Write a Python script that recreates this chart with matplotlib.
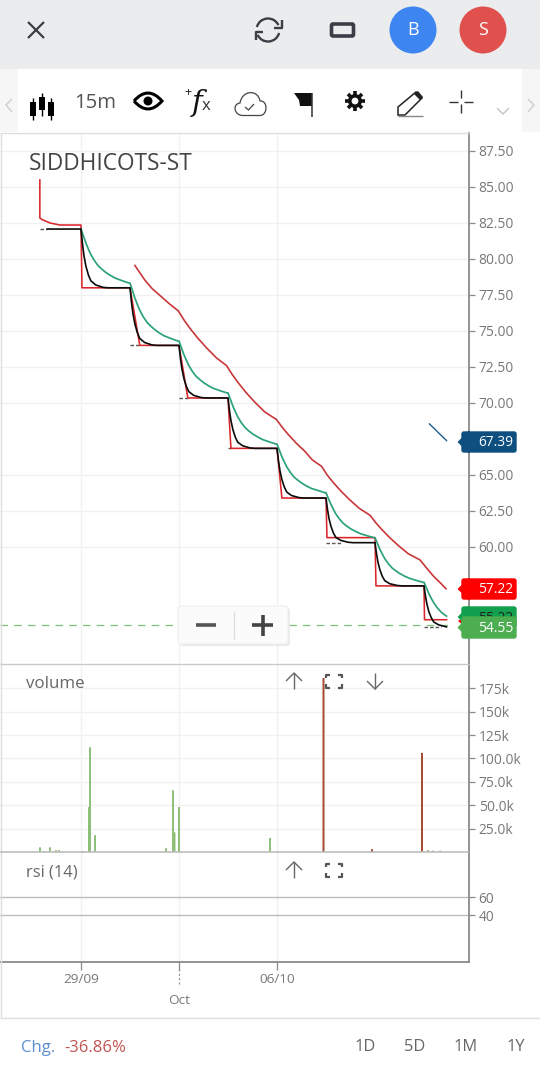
import matplotlib
matplotlib.use("Agg")
import matplotlib.pyplot as plt
from matplotlib.patches import Circle, Rectangle, Polygon, FancyBboxPatch, PathPatch, Arc
from matplotlib.path import Path

# x values are trading days counted from 29/09
price_ticks = [87.5, 85, 82.5, 80, 77.5, 75, 72.5, 70, 65, 62.5, 60]
price_labels = ["87.50", "85.00", "82.50", "80.00", "77.50", "75.00", "72.50", "70.00", "65.00", "62.50", "60.00"]
day_ticks = [0, 2, 4]
day_labels = ["29/09", "Oct", "06/10"]

black_x = [-0.69, 0, 0.03, 0.06, 0.1, 0.15, 0.2, 0.3, 0.45, 0.55,
           1, 1.03, 1.06, 1.1, 1.15, 1.2, 1.3, 1.45, 1.55,
           2, 2.03, 2.06, 2.1, 2.15, 2.2, 2.3, 2.45, 2.55,
           3, 3.03, 3.06, 3.1, 3.15, 3.2, 3.3, 3.45, 3.55,
           4, 4.03, 4.06, 4.1, 4.15, 4.2, 4.3, 4.45, 4.55,
           5, 5.03, 5.06, 5.1, 5.15, 5.2, 5.3, 5.45, 5.55,
           6, 6.03, 6.06, 6.1, 6.15, 6.2, 6.3, 6.45, 6.55,
           7, 7.03, 7.06, 7.1, 7.15, 7.2, 7.3, 7.46]
black_y = [82.08, 82.08, 81.06, 80.24, 79.5, 78.9, 78.49, 78.2, 78.03, 78.0,
           78.0, 77.0, 76.2, 75.48, 74.88, 74.48, 74.2, 74.03, 74.0,
           74.0, 73.09, 72.36, 71.7, 71.15, 70.79, 70.53, 70.38, 70.35,
           70.35, 69.47, 68.78, 68.15, 67.62, 67.27, 67.03, 66.88, 66.85,
           66.85, 65.99, 65.3, 64.68, 64.16, 63.81, 63.57, 63.43, 63.4,
           63.4, 62.62, 62.0, 61.45, 60.98, 60.67, 60.46, 60.33, 60.3,
           60.3, 59.55, 58.95, 58.41, 57.96, 57.66, 57.45, 57.33, 57.3,
           57.3, 56.59, 56.02, 55.5, 55.08, 54.79, 54.59, 54.45]

red_step_x = [-0.84, -0.84, -0.8, -0.63, -0.43, 0, 0.02, 1, 1.2, 2, 2.18, 3, 3.06, 4, 4.1, 5, 5.02, 6, 6.02, 7, 7.01, 7.46]
red_step_y = [85.49, 82.85, 82.75, 82.5, 82.36, 82.36, 78.0, 78.0, 74.0, 74.0, 70.35, 70.35, 66.85, 66.85, 63.4, 63.4, 60.65, 60.65, 57.3, 57.3, 54.95, 54.95]

green_x = [0, 0.05, 0.1, 0.15, 0.2, 0.27, 0.35, 0.42, 0.5, 0.6, 0.7, 0.85, 0.98,
           1, 1.05, 1.1, 1.15, 1.2, 1.27, 1.35, 1.42, 1.5, 1.6, 1.7, 1.85, 1.98,
           2, 2.05, 2.1, 2.15, 2.2, 2.27, 2.35, 2.42, 2.5, 2.6, 2.7, 2.85, 2.98,
           3, 3.05, 3.1, 3.15, 3.2, 3.27, 3.35, 3.42, 3.5, 3.6, 3.7, 3.85, 3.98,
           4, 4.05, 4.1, 4.15, 4.2, 4.27, 4.35, 4.42, 4.5, 4.6, 4.7, 4.85, 4.98,
           5, 5.05, 5.1, 5.15, 5.2, 5.27, 5.35, 5.42, 5.5, 5.6, 5.7, 5.85, 5.98,
           6, 6.05, 6.1, 6.15, 6.2, 6.27, 6.35, 6.42, 6.5, 6.6, 6.7, 6.85, 6.98,
           7, 7.05, 7.1, 7.15, 7.2, 7.27, 7.35, 7.42, 7.46]
green_y = [82.08, 81.59, 81.11, 80.69, 80.32, 79.91, 79.53, 79.31, 79.08, 78.86, 78.67, 78.48, 78.33,
           78.33, 77.81, 77.28, 76.84, 76.44, 75.99, 75.59, 75.35, 75.11, 74.86, 74.66, 74.46, 74.3,
           74.3, 73.83, 73.36, 72.97, 72.61, 72.21, 71.85, 71.64, 71.42, 71.2, 71.02, 70.84, 70.7,
           70.7, 70.24, 69.78, 69.39, 69.03, 68.64, 68.29, 68.07, 67.86, 67.65, 67.47, 67.29, 67.15,
           67.15, 66.71, 66.27, 65.9, 65.56, 65.19, 64.85, 64.65, 64.45, 64.24, 64.07, 63.91, 63.77,
           63.77, 63.36, 62.96, 62.62, 62.3, 61.96, 61.65, 61.46, 61.27, 61.09, 60.93, 60.77, 60.65,
           60.65, 60.25, 59.84, 59.5, 59.19, 58.85, 58.54, 58.36, 58.17, 57.98, 57.83, 57.67, 57.55,
           57.55, 57.15, 56.76, 56.42, 56.12, 55.78, 55.48, 55.29, 55.2]

upper_x = [1.1, 1.3, 1.45, 1.6, 1.8, 1.985, 2.105, 2.225, 2.385, 2.565, 2.765, 2.97,
           3.09, 3.21, 3.37, 3.55, 3.75, 3.99, 4.11, 4.23, 4.39, 4.57, 4.72, 4.91,
           5.02, 5.14, 5.3, 5.48, 5.68, 5.9, 6.02, 6.14, 6.3, 6.48, 6.68, 6.92, 7.05, 7.2, 7.35, 7.45]
upper_y = [79.55, 78.55, 77.95, 77.5, 76.9, 76.4, 75.75, 75.18, 74.5, 73.82, 73.13, 72.6,
           71.96, 71.4, 70.72, 70.05, 69.38, 68.85, 68.3, 67.81, 67.22, 66.64, 66.05, 65.6,
           65.02, 64.51, 63.9, 63.29, 62.68, 62.2, 61.67, 61.21, 60.65, 60.09, 59.53, 59.1, 58.55, 57.95, 57.45, 57.1]

blue_x = [7.11, 7.46]
blue_y = [68.55, 67.39]

# short dashed stubs at the start of some levels
stub_x0 = [-0.84, 1.0, 2.0, 3.0, 5.0, 7.0]
stub_x1 = [-0.69, 1.2, 2.18, 3.06, 5.3, 7.35]
stub_y = [82.08, 74.0, 70.35, 66.85, 60.3, 54.45]

last_price = 54.55

volume_ticks = [25, 50, 75, 100, 125, 150, 175]
volume_labels = ["25.0k", "50.0k", "75.0k", "100.0k", "125k", "150k", "175k"]
up_x = [-0.837, -0.755, -0.633, -0.51, -0.449, 0.163, 0.184, 0.286, 1.735, 1.878, 1.908, 2.0, 3.857, 7.082, 7.184, 7.327]
up_vol = [5, 1, 5, 2, 2, 48, 112, 18, 4, 66, 21, 48, 15, 2, 1.5, 1.5]
down_x = [0.04, 4.949, 5.939, 6.959]
down_vol = [1, 186, 3, 106]

rsi_ticks = [40, 60]


def px_axes(x0, y0, x1, y1):
    # axes placed by pixel box, y counted from the top of the image
    return fig.add_axes([x0 / 540, 1 - y1 / 1079, (x1 - x0) / 540, (y1 - y0) / 1079])


def style_pane(ax):
    ax.set_xlim(-81 / 49, (469 - 81) / 49)
    ax.yaxis.tick_right()
    ax.set_xticks(day_ticks)
    ax.grid(True, color="#f1f1f1", lw=1.0)
    ax.set_axisbelow(True)
    for s in ["top", "left", "bottom"]:
        ax.spines[s].set_visible(False)
    ax.spines["right"].set_color("#8a8a8a")
    ax.spines["right"].set_linewidth(1.3)
    ax.tick_params(axis="y", length=4, width=0.9, color="#8a8a8a", labelcolor="#777777", labelsize=9.9, pad=3)
    ax.tick_params(axis="x", length=0, labelbottom=False)


plt.rcParams["font.family"] = ["Open Sans", "DejaVu Sans"]
fig = plt.figure(figsize=(5.40, 10.79), dpi=100)

# price pane
ax = px_axes(0, 133, 469, 663)
style_pane(ax)
ax.set_ylim(60 - 116 / 14.4, 60 + 414 / 14.4)
ax.set_yticks(price_ticks)
ax.set_yticklabels(price_labels)
ax.hlines(stub_y, stub_x0, stub_x1, colors="#555555", lw=1.0, linestyles=(0, (2.5, 1.5)), zorder=2)
ax.plot(red_step_x, red_step_y, color="#d9262a", lw=1.15, zorder=3)
ax.plot(upper_x, upper_y, color="#c8373a", lw=1.2, zorder=3)
ax.plot(green_x, green_y, color="#2ba27a", lw=1.25, zorder=4)
ax.plot(black_x, black_y, color="#0c0c0c", lw=1.2, zorder=5)
ax.plot(blue_x, blue_y, color="#1f5f8b", lw=1.0, zorder=5)
ax.plot([-81 / 49, 7.6], [last_price, last_price], color="#7cc07c", lw=0.9, ls=(0, (6, 5)), zorder=2)

# volume pane
ax_vol = px_axes(0, 664, 469, 852)
style_pane(ax_vol)
ax_vol.set_ylim(0, 200.9)
ax_vol.set_yticks(volume_ticks)
ax_vol.set_yticklabels(volume_labels)
ax_vol.bar(up_x, up_vol, width=0.04, color="#8dbf78", zorder=3, snap=False)
ax_vol.bar(down_x, down_vol, width=0.04, color="#a34a30", zorder=3, snap=False)

# rsi pane
ax_rsi = px_axes(0, 852, 469, 962)
style_pane(ax_rsi)
ax_rsi.set_ylim(-12.2, 110)
ax_rsi.set_yticks(rsi_ticks)
ax_rsi.set_yticklabels(["40", "60"])
ax_rsi.yaxis.grid(True, color="#bdbdbd", lw=1.0)
ax_rsi.spines["bottom"].set_visible(True)
ax_rsi.spines["bottom"].set_color("#8a8a8a")
ax_rsi.spines["bottom"].set_linewidth(1.3)
ax_rsi.tick_params(axis="x", length=6, width=0.9, color="#8a8a8a", labelcolor="#777777",
                   labelsize=9.7, labelbottom=True, pad=2)
ax_rsi.set_xticklabels(day_labels)
ax_rsi.xaxis.get_major_ticks()[1].set_pad(17)

# everything around the chart, in image pixels
ui = fig.add_axes([0, 0, 1, 1], zorder=10)
ui.set_xlim(0, 540)
ui.set_ylim(1079, 0)
ui.axis("off")
ui.patch.set_alpha(0)


def line(xs, ys, color="#333333", lw=1.2, **kw):
    ui.plot(xs, ys, color=color, lw=lw, solid_capstyle="butt", **kw)


def label(x, y, s, size, color="#666666", ha="left", **kw):
    ui.text(x, y + 1.5, s, fontsize=size, color=color, ha=ha, va="center", **kw)


def tag(y0, y1, color, z=1):
    ui.add_patch(FancyBboxPatch((462, y0 + 1), 54, y1 - y0 - 2, boxstyle="round,pad=0,rounding_size=2",
                                fc=color, ec=color, lw=1, zorder=z))
    ui.add_patch(Polygon([(458, (y0 + y1) / 2), (469, y0), (469, y1)], fc=color, ec=color, lw=0.5, zorder=z))


def expand_icon(cx, cy):
    for sx in (-1, 1):
        for sy in (-1, 1):
            line([cx + sx * 8, cx + sx * 8, cx + sx * 4], [cy + sy * 3, cy + sy * 6.5, cy + sy * 6.5], color="#555555", lw=1.6)


def arrow_icon(cx, cy, up=True):
    d = -1 if up else 1
    line([cx, cx], [cy - 8, cy + 8], color="#666666", lw=1.0)
    line([cx - 8, cx, cx + 8], [cy, cy + d * 8, cy], color="#666666", lw=1.0)


# top bar
ui.add_patch(Rectangle((0, 0), 540, 69, fc="#eaecee", ec="none"))
line([28, 44], [22, 38], color="#3b3f45", lw=1.6)
line([28, 44], [38, 22], color="#3b3f45", lw=1.6)
ui.add_patch(Arc((268, 30), 23, 23, theta1=195, theta2=335, ec="#3b3f45", lw=1.7))
ui.add_patch(Arc((268, 30), 23, 23, theta1=15, theta2=155, ec="#3b3f45", lw=1.7))
line([282, 282, 274], [20, 28, 28], color="#3b3f45", lw=1.7)
line([256, 256, 263], [40, 32, 32], color="#3b3f45", lw=1.7)
ui.add_patch(FancyBboxPatch((331.5, 24), 22, 12, boxstyle="round,pad=0,rounding_size=1.5", fc="none", ec="#3b3f45", lw=2.6))
ui.add_patch(Circle((413, 30), 23.5, fc="#3d85f0", ec="none"))
ui.add_patch(Circle((483, 30), 23.5, fc="#e0504c", ec="none"))
label(413, 28.5, "B", 13, color="white", ha="center")
label(483, 28.5, "S", 13, color="white", ha="center")

# toolbar
ui.add_patch(Rectangle((0, 69), 18, 63, fc="#f6f6f6", ec="none"))
ui.add_patch(Rectangle((522, 69), 18, 63, fc="#f6f6f6", ec="none"))
line([12, 6, 12], [99, 105, 112], color="#d0d0d0", lw=1.1)
line([528, 534, 528], [99, 105, 112], color="#d0d0d0", lw=1.1)
line([497, 503, 509], [108, 114, 108], color="#c8c8c8", lw=1.1)
for cx, y0, y1, b0, b1 in [(33, 98, 120, 102, 116), (42, 93, 116, 97, 110), (51, 98, 120, 102, 116)]:
    line([cx, cx], [y0, y1], color="black", lw=1.0)
    ui.add_patch(Rectangle((cx - 3, b0), 6, b1 - b0, fc="black", ec="none"))
label(74, 101, "15m", 14.6, color="#555555")
ui.add_patch(PathPatch(Path([(134, 101), (148, 85), (162, 101), (148, 117), (134, 101)],
                            [Path.MOVETO, Path.CURVE3, Path.CURVE3, Path.CURVE3, Path.CURVE3]),
                       fc="white", ec="black", lw=2.2))
ui.add_patch(Circle((148, 101), 4.5, fc="black", ec="none"))
ui.text(197, 103, "f", fontsize=21, family="DejaVu Serif", style="italic", ha="center", va="center", color="#111111")
label(206, 104, "x", 12, color="#333333", ha="center")
label(188, 91, "+", 9, color="#222222", ha="center")
ui.add_patch(PathPatch(Path([(243, 115.5), (234, 115.5), (232, 104), (240, 103), (242, 90), (258, 89), (260, 101),
                             (268, 100), (268, 115.5), (260, 115.5), (243, 115.5)],
                            [Path.MOVETO, Path.CURVE4, Path.CURVE4, Path.CURVE4, Path.CURVE4, Path.CURVE4, Path.CURVE4,
                             Path.CURVE4, Path.CURVE4, Path.CURVE4, Path.LINETO]),
                       fc="none", ec="#444444", lw=0.9))
line([245, 248.5, 254], [107, 110, 104], color="#444444", lw=0.9)
ui.add_patch(Polygon([(294, 93), (312, 93), (312, 106), (300, 106), (299, 100)], fc="#111111", ec="none"))
line([311.5, 311.5], [93, 117], color="#333333", lw=1.1)
for dx, dy in [(0, 10), (10, 0), (7, 7), (7, -7)]:
    line([355 - dx, 355 + dx], [101 - dy, 101 + dy], color="#111111", lw=2.6)
ui.add_patch(Circle((355, 101), 7, fc="#111111", ec="none", zorder=3))
ui.add_patch(Circle((355, 101), 3.4, fc="white", ec="none", zorder=4))
ui.add_patch(Polygon([(398, 107), (416, 92), (422, 98), (405, 115), (398, 115)], fc="white", ec="#222222", lw=1.1))
ui.add_patch(Polygon([(414, 94), (418, 91), (423, 97), (420, 100)], fc="#222222", ec="none", zorder=3))
line([398, 423], [116, 116], color="#888888", lw=1.0)
line([461, 461], [90, 98], color="#333333", lw=1.0)
line([461, 461], [104, 113], color="#333333", lw=1.0)
line([449, 458], [101.5, 101.5], color="#333333", lw=1.0)
line([464, 473], [101.5, 101.5], color="#333333", lw=1.0)
line([0, 469], [132.5, 132.5], color="#dddddd", lw=1.0)

# pane separators and borders
line([0.5, 0.5], [133, 1017], color="#dddddd", lw=1.0)
line([0, 469], [663.5, 663.5], color="#c9c9c9", lw=1.0)
line([0, 469], [851.5, 851.5], color="#bdbdbd", lw=1.2)
line([0, 540], [1017.5, 1017.5], color="#dedede", lw=1.0)
line([179, 179], [969, 986], color="#8a8a8a", lw=0.9, ls=(0, (1.5, 2)))

label(29, 162, "SIDDHICOTS-ST", 16.3, color="#444444")
label(26, 682.5, "volume", 12.2, color="#666666")
label(26, 871, "rsi (14)", 11.8, color="#666666")
arrow_icon(294, 681, up=True)
expand_icon(334, 681)
arrow_icon(375, 681, up=False)
arrow_icon(294, 870, up=True)
expand_icon(334, 870)

# zoom buttons
ui.add_patch(FancyBboxPatch((180, 608), 110, 38, boxstyle="round,pad=0,rounding_size=3", fc="#e2e2e2", ec="none", alpha=0.7))
ui.add_patch(FancyBboxPatch((178, 606), 110, 38, boxstyle="round,pad=0,rounding_size=3", fc="#fbfbfb", ec="#eeeeee", lw=0.8))
line([234, 234], [611, 639], color="#dddddd", lw=1.0)
line([196, 216], [625, 625], color="#555555", lw=2.6)
line([252, 273], [625, 625], color="#444444", lw=2.6)
line([262.5, 262.5], [615, 636], color="#444444", lw=2.6)

# price tags, the later ones sit on top of the earlier ones
tag(431, 453, "#0e4f80")
label(478, 441.5, "67.39", 9.9, color="white")
tag(578, 600, "#ff0000")
label(478, 588, "57.22", 9.9, color="white")
ui.add_patch(Polygon([(458, 621), (464, 617), (464, 626)], fc="#ff0000", ec="none"))
tag(606, 628, "#10a04e", z=2)
ui.text(478, 618, "55.22", fontsize=9.9, color="#222222", ha="left", va="center", zorder=3)
tag(616, 639, "#4cae50", z=4)
ui.text(478, 628, "54.55", fontsize=9.9, color="white", ha="left", va="center", zorder=5)

# footer
label(21, 1046, "Chg.", 12, color="#5b8ed0")
label(64, 1046, "-36.86%", 12, color="#c05552")
for cx, s in zip([365, 415, 466, 516], ["1D", "5D", "1M", "1Y"]):
    label(cx, 1045.5, s, 11.8, color="#666666", ha="center")

fig.savefig("out.png", dpi=100)
